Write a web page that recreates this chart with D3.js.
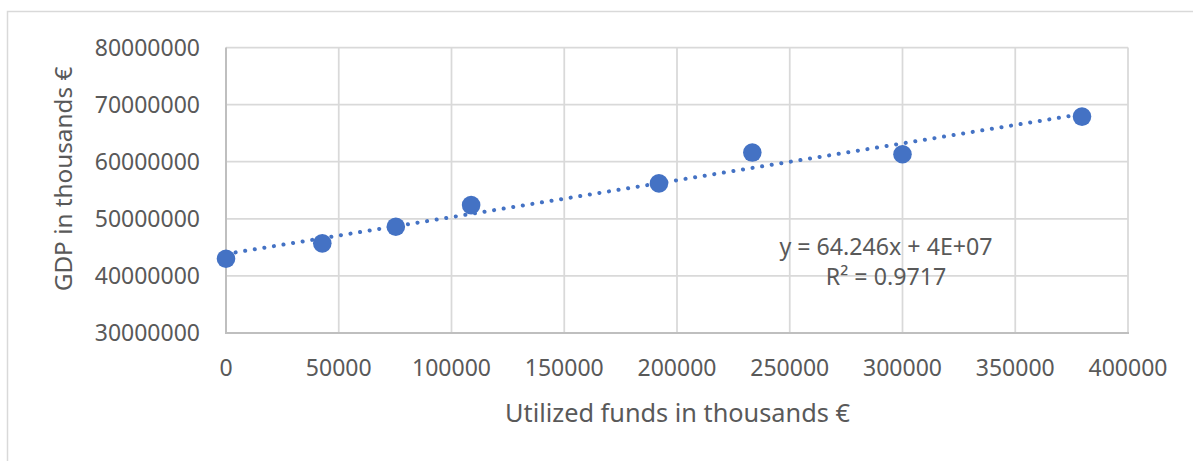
<!DOCTYPE html>
<html><head><meta charset="utf-8">
<script src="https://cdn.jsdelivr.net/npm/d3@7"></script>
<style>body{margin:0;background:#fff;} svg{display:block;} text{font-family:"Noto Sans","Open Sans",sans-serif;fill:#595959;}</style>
</head><body><svg id="c" width="1193" height="461"></svg>
<script>
const funds = [0, 42700, 75300, 108700, 192000, 233400, 300000, 379600];
const gdp = [43000000, 45700000, 48600000, 52400000, 56200000, 61600000, 61300000, 67900000];
const xTicks = [0, 50000, 100000, 150000, 200000, 250000, 300000, 350000, 400000];
const yTicks = [30000000, 40000000, 50000000, 60000000, 70000000, 80000000];
const eqLines = ["y = 64.246x + 4E+07", "R² = 0.9717"];
const xTitle = "Utilized funds in thousands €";
const yTitle = "GDP in thousands €";

const svg = d3.select("#c");
svg.append("rect").attr("x",7.5).attr("y",11.5).attr("width",1220).attr("height",480)
  .attr("fill","#fff").attr("stroke","#d9d9d9").attr("stroke-width",1.5);

const L=226, R=1128, T=47.5, B=333;
const x = d3.scaleLinear().domain([0,400000]).range([L,R]);
const y = d3.scaleLinear().domain([30000000,80000000]).range([B,T]);

const g = svg.append("g");
g.selectAll(".gx").data(xTicks.slice(1)).join("line")
  .attr("x1",d=>x(d)).attr("x2",d=>x(d)).attr("y1",T).attr("y2",B)
  .attr("stroke","#d9d9d9").attr("stroke-width",1.75);
g.selectAll(".gy").data(yTicks.slice(1)).join("line")
  .attr("x1",L).attr("x2",R).attr("y1",d=>y(d)).attr("y2",d=>y(d))
  .attr("stroke","#d9d9d9").attr("stroke-width",1.75);
g.append("line").attr("x1",L).attr("x2",L).attr("y1",T).attr("y2",B+1).attr("stroke","#bfbfbf").attr("stroke-width",2);
g.append("line").attr("x1",L-1).attr("x2",R+1).attr("y1",B).attr("y2",B).attr("stroke","#bfbfbf").attr("stroke-width",2);

g.selectAll(".tx").data(xTicks).join("text")
  .attr("x",d=>x(d)).attr("y",376).attr("text-anchor","middle")
  .attr("font-size",23).text(d=>d3.format("d")(d));
g.selectAll(".ty").data(yTicks).join("text")
  .attr("x",200).attr("y",d=>y(d)+8.3).attr("text-anchor","end")
  .attr("font-size",23).text(d=>d3.format("d")(d));

svg.append("text").attr("x",677.5).attr("y",421.5).attr("text-anchor","middle").attr("font-size",25.3).text(xTitle);
svg.append("text").attr("transform","translate(71.5,179) rotate(-90)").attr("text-anchor","middle").attr("font-size",24.3).text(yTitle);

const n = funds.length;
const mx = d3.mean(funds), my = d3.mean(gdp);
let sxy=0, sxx=0;
for(let i=0;i<n;i++){ sxy+=(funds[i]-mx)*(gdp[i]-my); sxx+=(funds[i]-mx)**2; }
const slope = sxy/sxx, icpt = my - slope*mx;
const x0 = d3.min(funds), x1 = d3.max(funds);
g.append("line").attr("x1",x(x0)).attr("y1",y(icpt+slope*x0)).attr("x2",x(x1)).attr("y2",y(icpt+slope*x1))
  .attr("stroke","#4472c4").attr("stroke-width",4).attr("stroke-linecap","round").attr("stroke-dasharray","0.1 9.6");

g.selectAll(".pt").data(funds.map((f,i)=>[f,gdp[i]])).join("circle")
  .attr("cx",d=>x(d[0])).attr("cy",d=>y(d[1])).attr("r",9.3).attr("fill","#4472c4");

svg.append("g").selectAll("text").data(eqLines).join("text")
  .attr("x",886).attr("y",(d,i)=>255+i*30).attr("text-anchor","middle").attr("font-size",23.2).text(d=>d);
</script></body></html>
